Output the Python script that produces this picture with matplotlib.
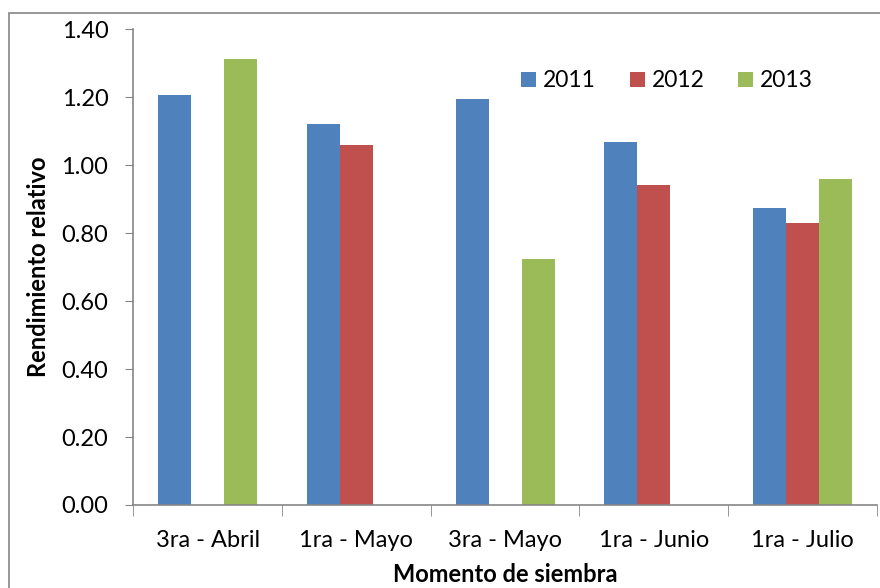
import matplotlib as mpl
mpl.use('Agg')
import matplotlib.pyplot as plt
import numpy as np
from matplotlib.patches import Rectangle

categories = ['3ra - Abril', '1ra - Mayo', '3ra - Mayo', '1ra - Junio', '1ra - Julio']
years = ['2011', '2012', '2013']
v2011 = [1.206, 1.121, 1.194, 1.068, 0.874]
v2012 = [np.nan, 1.059, np.nan, 0.943, 0.830]
v2013 = [1.313, np.nan, 0.724, np.nan, 0.961]
colors = ['#4F81BD', '#C0504D', '#9BBB59']

plt.rcParams['font.family'] = ['Lato', 'DejaVu Sans']

fig = plt.figure(figsize=(8.8, 5.88), dpi=100)
ax = fig.add_axes([0.1515, 0.1412, 0.8448, 0.8087])

x = np.arange(len(categories))
w = 0.222
for i, (vals, c, lab) in enumerate(zip([v2011, v2012, v2013], colors, years)):
    ax.bar(x + (i - 1) * w, vals, width=w, color=c, label=lab)

ax.set_xlim(-0.5, len(categories) - 0.5)
ax.set_ylim(0, 1.40)
ax.set_yticks(np.arange(0, 1.41, 0.2))
ax.set_yticklabels(['%.2f' % t for t in np.arange(0, 1.41, 0.2)])
ax.set_xticks(x)
ax.set_xticklabels(categories)
ax.set_xticks(np.arange(-0.5, len(categories), 1), minor=True)

for s in ['top', 'right']:
    ax.spines[s].set_visible(False)
for s in ['left', 'bottom']:
    ax.spines[s].set_color('#868686')
    ax.spines[s].set_linewidth(1.2)

ax.tick_params(axis='y', which='major', direction='out', length=6, color='#868686', labelsize=17, pad=12)
ax.tick_params(axis='x', which='major', length=0, labelsize=17, pad=18)
ax.tick_params(axis='x', which='minor', direction='out', length=8, color='#868686')

ax.set_ylabel('Rendimiento relativo', fontsize=17, fontweight='bold', labelpad=8)
ax.set_xlabel('Momento de siembra', fontsize=17, fontweight='bold', labelpad=9)

ax.legend(loc='center right', bbox_to_anchor=(0.942, 0.892), ncol=3, frameon=False,
          fontsize=16.5, handlelength=0.65, handleheight=0.65, columnspacing=1.48,
          handletextpad=0.3)

fig.patches.append(Rectangle((9 / 880, -0.1), 1.2, 1 - 13 / 588 + 0.1,
                             transform=fig.transFigure, fill=False,
                             edgecolor='#868686', linewidth=1.2))

plt.savefig('out.png')
